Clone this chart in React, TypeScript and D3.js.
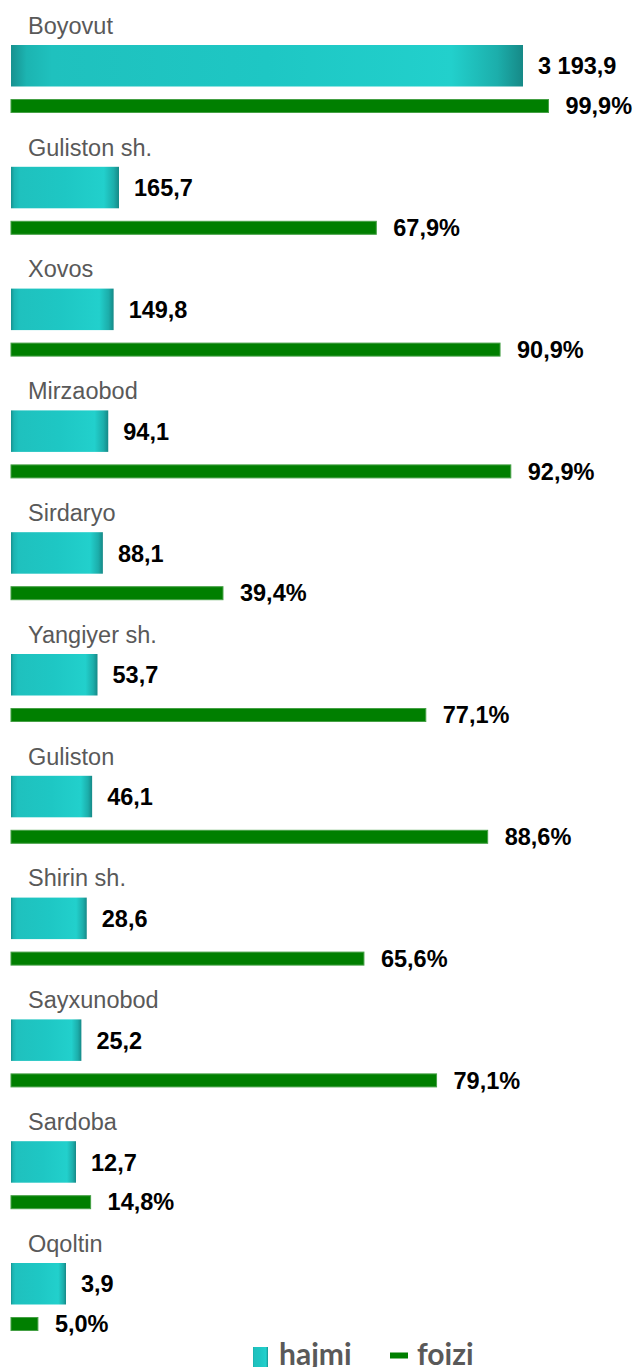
import React from "react";
import * as d3 from "d3";

const categories = ["Boyovut", "Guliston sh.", "Xovos", "Mirzaobod", "Sirdaryo", "Yangiyer sh.", "Guliston", "Shirin sh.", "Sayxunobod", "Sardoba", "Oqoltin"];
const hajmi = [3193.9, 165.7, 149.8, 94.1, 88.1, 53.7, 46.1, 28.6, 25.2, 12.7, 3.9];
const foizi = [99.9, 67.9, 90.9, 92.9, 39.4, 77.1, 88.6, 65.6, 79.1, 14.8, 5.0];
const hajmiLabels = ["3 193,9", "165,7", "149,8", "94,1", "88,1", "53,7", "46,1", "28,6", "25,2", "12,7", "3,9"];
const foiziLabels = ["99,9%", "67,9%", "90,9%", "92,9%", "39,4%", "77,1%", "88,6%", "65,6%", "79,1%", "14,8%", "5,0%"];
const legendLabels = ["hajmi", "foizi"];

const W = 636;
const H = 1367;
const X0 = 11;

export default function App() {
  const n = categories.length;
  const y = d3.scalePoint<string>().domain(categories).range([45, 1263]);
  const xPct = d3.scaleLinear().domain([0, 100]).range([0, 538]);
  // pictorial rank-based scale for volumes (ascending rank)
  const sorted = hajmi.slice().sort(d3.ascending);
  const rank = (v: number) => sorted.indexOf(v);
  const xRank = d3.scaleLinear().domain([0, 1, n - 2, n - 1]).range([55, 65, 108, 512]);

  const tealH = 41.5;
  const greenOff = 54;
  const greenH = 14;
  const font = "'Liberation Sans', Arial, sans-serif";

  return (
    <div style={{ position: "absolute", left: 0, top: 0 }}>
      <svg width={W} height={H} style={{ display: "block" }}>
        <defs>
          <linearGradient id="teal" x1="0" x2="1" y1="0" y2="0">
            <stop offset="0" stopColor="#17918f" />
            <stop offset="0.03" stopColor="#1cb4b1" />
            <stop offset="0.08" stopColor="#1fc1be" />
            <stop offset="0.5" stopColor="#1ec7c4" />
            <stop offset="0.86" stopColor="#22d0cc" />
            <stop offset="0.95" stopColor="#1caeab" />
            <stop offset="1" stopColor="#168987" />
          </linearGradient>
        </defs>
        {categories.map((c, i) => {
          const top = y(c)!;
          const wT = xRank(rank(hajmi[i]));
          const wG = xPct(foizi[i]);
          return (
            <g key={c}>
              <text x={28} y={top - 11.3} fontFamily={font} fontSize={23.5} fill="#595959">{c}</text>
              <rect x={X0} y={top} width={wT} height={tealH} fill="url(#teal)" />
              <text x={X0 + wT + 15} y={top + tealH / 2 + 8.7} fontFamily={font} fontSize={23.5} fontWeight="bold" fill="#000">{hajmiLabels[i]}</text>
              <rect x={X0} y={top + greenOff + 0.5} width={wG} height={greenH - 1} fill="#007f00" stroke="#45a045" strokeWidth={1} />
              <text x={X0 + wG + 17} y={top + greenOff + greenH / 2 + 8.2} fontFamily={font} fontSize={23.5} fontWeight="bold" fill="#000">{foiziLabels[i]}</text>
            </g>
          );
        })}
        <g>
          <rect x={253} y={1347} width={15} height={22} fill="url(#teal)" />
          <text x={279} y={1365} fontFamily="Lato, 'Open Sans', sans-serif" fontSize={30} fontWeight="bold" fill="#595959">{legendLabels[0]}</text>
          <rect x={390} y={1352.5} width={18} height={6} fill="#007f00" />
          <text x={417} y={1365} fontFamily="Lato, 'Open Sans', sans-serif" fontSize={30} fontWeight="bold" fill="#595959">{legendLabels[1]}</text>
        </g>
      </svg>
    </div>
  );
}
